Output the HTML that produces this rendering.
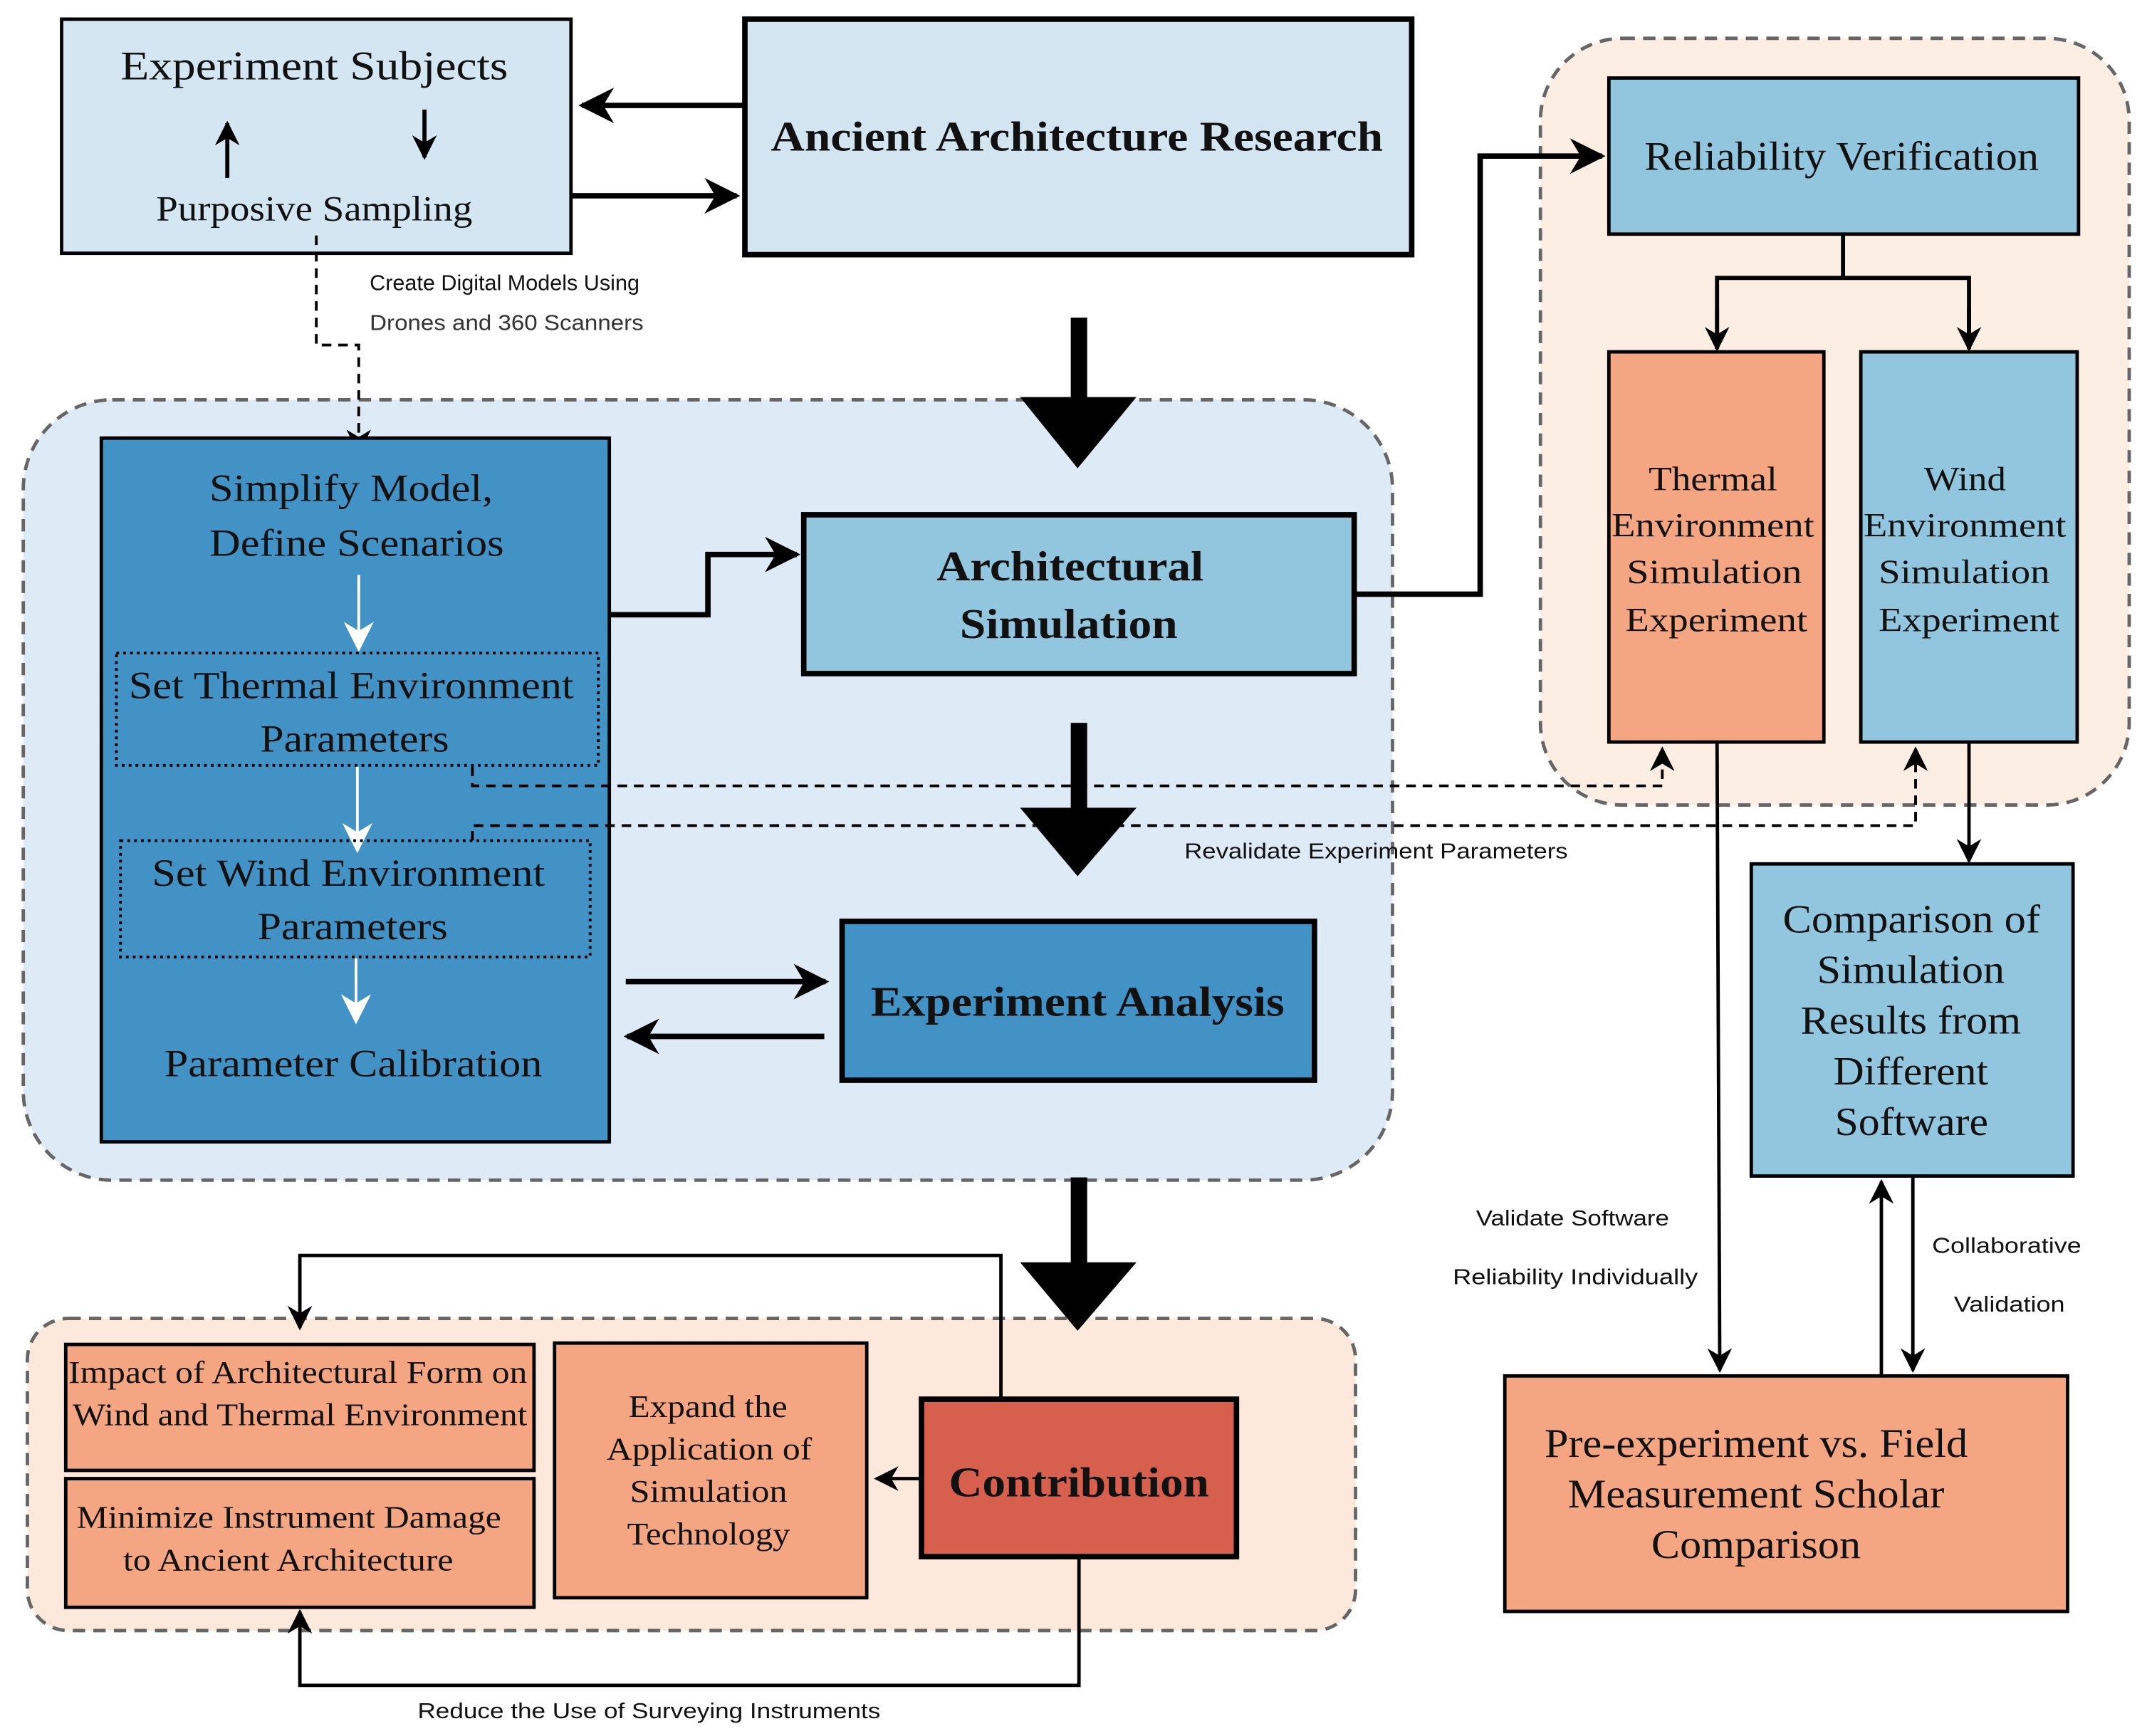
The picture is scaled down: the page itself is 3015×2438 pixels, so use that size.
<!DOCTYPE html>
<html><head><meta charset="utf-8"><style>html,body{margin:0;padding:0;background:#fff}svg{display:block}</style></head>
<body>
<svg width="3015" height="2438" viewBox="0 0 1568 1268" preserveAspectRatio="none" xmlns="http://www.w3.org/2000/svg">
<defs>
<marker id="ab" viewBox="0 0 10 10" refX="9" refY="5" markerWidth="26" markerHeight="26" orient="auto" markerUnits="userSpaceOnUse"><path d="M0,0 L10,5 L0,10 L3,5z" fill="#000"/></marker>
<marker id="am" viewBox="0 0 10 10" refX="9" refY="5" markerWidth="18" markerHeight="18" orient="auto" markerUnits="userSpaceOnUse"><path d="M0,0 L10,5 L0,10 L3,5z" fill="#000"/></marker>
<marker id="aw" viewBox="0 0 10 10" refX="9" refY="5" markerWidth="22" markerHeight="22" orient="auto" markerUnits="userSpaceOnUse"><path d="M0,0 L10,5 L0,10 L3,5z" fill="#fff"/></marker>
</defs>
<g font-family="Liberation Serif, serif" fill="#111" lengthAdjust="spacingAndGlyphs">
<rect x="17" y="292" width="1000" height="570" rx="65" fill="#deebf6" stroke="#666" stroke-width="2.5" stroke-dasharray="9,6"/>
<rect x="1125" y="28" width="430" height="560" rx="60" fill="#fdeee4" stroke="#666" stroke-width="2.5" stroke-dasharray="9,6"/>
<rect x="20" y="963" width="970" height="228" rx="30" fill="#fde8dc" stroke="#666" stroke-width="2.5" stroke-dasharray="9,6"/>

<rect x="45" y="14" width="372" height="171" fill="#d4e6f1" stroke="#000" stroke-width="2.5"/>
<text x="88" y="58" font-size="30" textLength="283" lengthAdjust="spacingAndGlyphs">Experiment Subjects</text>
<text x="114" y="161" font-size="26" textLength="231" lengthAdjust="spacingAndGlyphs">Purposive Sampling</text>
<line x1="166" y1="130" x2="166" y2="90" stroke="#000" stroke-width="3" marker-end="url(#am)"/>
<line x1="310" y1="80" x2="310" y2="115" stroke="#000" stroke-width="3" marker-end="url(#am)"/>
<rect x="544" y="14" width="487" height="172" fill="#d2e5f0" stroke="#000" stroke-width="4"/>
<text x="563" y="110" font-size="31" font-weight="bold" textLength="447" lengthAdjust="spacingAndGlyphs">Ancient Architecture Research</text>
<line x1="544" y1="77" x2="425" y2="77" stroke="#000" stroke-width="4" marker-end="url(#ab)"/>
<line x1="417" y1="143" x2="538" y2="143" stroke="#000" stroke-width="4" marker-end="url(#ab)"/>

<path d="M231,172 V252 H262 V330" fill="none" stroke="#000" stroke-width="2" stroke-dasharray="7,5" marker-end="url(#am)"/>
<text x="270" y="212" font-size="16" font-family="Liberation Sans Narrow, Liberation Sans, sans-serif" textLength="197" lengthAdjust="spacingAndGlyphs">Create Digital Models Using</text>
<text x="270" y="241" font-size="16" font-family="Liberation Sans, sans-serif" fill="#333" textLength="200" lengthAdjust="spacingAndGlyphs">Drones and 360 Scanners</text>

<g fill="#000">
<rect x="782" y="232" width="12" height="62"/><polygon points="745,290 830,290 787,342"/>
<rect x="782" y="528" width="12" height="66"/><polygon points="745,590 830,590 787,640"/>
<rect x="782" y="860" width="12" height="66"/><polygon points="745,922 830,922 787,972"/>
</g>

<rect x="74" y="320" width="371" height="514" fill="#4292c6" stroke="#000" stroke-width="2.5"/>
<text x="153" y="366" font-size="28" textLength="207" lengthAdjust="spacingAndGlyphs">Simplify Model,</text>
<text x="153" y="406" font-size="28" textLength="215" lengthAdjust="spacingAndGlyphs">Define Scenarios</text>
<line x1="262" y1="420" x2="262" y2="474" stroke="#fff" stroke-width="2" marker-end="url(#aw)"/>
<rect x="85" y="477" width="352" height="82" fill="none" stroke="#000" stroke-width="2" stroke-dasharray="2,3"/>
<text x="94" y="510" font-size="28" textLength="325" lengthAdjust="spacingAndGlyphs">Set Thermal Environment</text>
<text x="190" y="549" font-size="28" textLength="138" lengthAdjust="spacingAndGlyphs">Parameters</text>
<line x1="261" y1="560" x2="261" y2="621" stroke="#fff" stroke-width="2" marker-end="url(#aw)"/>
<rect x="88" y="614" width="343" height="85" fill="none" stroke="#000" stroke-width="2" stroke-dasharray="2,3"/>
<text x="111" y="647" font-size="28" textLength="287" lengthAdjust="spacingAndGlyphs">Set Wind Environment</text>
<text x="188" y="686" font-size="28" textLength="139" lengthAdjust="spacingAndGlyphs">Parameters</text>
<line x1="260" y1="700" x2="260" y2="746" stroke="#fff" stroke-width="2" marker-end="url(#aw)"/>
<text x="120" y="786" font-size="28" textLength="276" lengthAdjust="spacingAndGlyphs">Parameter Calibration</text>

<rect x="587" y="376" width="402" height="116" fill="#92c5de" stroke="#000" stroke-width="4"/>
<text x="684" y="424" font-size="31" font-weight="bold" textLength="195" lengthAdjust="spacingAndGlyphs">Architectural</text>
<text x="701" y="466" font-size="31" font-weight="bold" textLength="159" lengthAdjust="spacingAndGlyphs">Simulation</text>
<path d="M445,449 H517 V405 H582" fill="none" stroke="#000" stroke-width="4" marker-end="url(#ab)"/>
<path d="M989,434 H1081 V114 H1170" fill="none" stroke="#000" stroke-width="4" marker-end="url(#ab)"/>

<rect x="615" y="673" width="345" height="116" fill="#4292c6" stroke="#000" stroke-width="4"/>
<text x="636" y="742" font-size="31" font-weight="bold" textLength="302" lengthAdjust="spacingAndGlyphs">Experiment Analysis</text>
<line x1="457" y1="717" x2="603" y2="717" stroke="#000" stroke-width="4" marker-end="url(#ab)"/>
<line x1="602" y1="757" x2="458" y2="757" stroke="#000" stroke-width="4" marker-end="url(#ab)"/>

<path d="M345,560 V574 H1214 V547" fill="none" stroke="#000" stroke-width="2" stroke-dasharray="7,5" marker-end="url(#am)"/>
<path d="M345,614 V603 H1399 V547" fill="none" stroke="#000" stroke-width="2" stroke-dasharray="7,5" marker-end="url(#am)"/>
<text x="865" y="627" font-size="16" font-family="Liberation Sans, sans-serif" textLength="280" lengthAdjust="spacingAndGlyphs">Revalidate Experiment Parameters</text>

<rect x="1175" y="57" width="343" height="114" fill="#92c5de" stroke="#000" stroke-width="2.5"/>
<text x="1201" y="124" font-size="30" textLength="288" lengthAdjust="spacingAndGlyphs">Reliability Verification</text>
<path d="M1346,171 V203 H1254 V254 M1346,203 H1438 V254" fill="none" stroke="#000" stroke-width="3"/>
<line x1="1254" y1="225" x2="1254" y2="255" stroke="#000" stroke-width="3" marker-end="url(#am)"/>
<line x1="1438" y1="225" x2="1438" y2="255" stroke="#000" stroke-width="3" marker-end="url(#am)"/>
<rect x="1175" y="257" width="157" height="285" fill="#f4a582" stroke="#000" stroke-width="2.5"/>
<g font-size="25">
<text x="1204" y="358" textLength="94" lengthAdjust="spacingAndGlyphs">Thermal</text>
<text x="1177" y="392" textLength="148" lengthAdjust="spacingAndGlyphs">Environment</text>
<text x="1188" y="426" textLength="128" lengthAdjust="spacingAndGlyphs">Simulation</text>
<text x="1187" y="461" textLength="133" lengthAdjust="spacingAndGlyphs">Experiment</text>
</g>
<rect x="1359" y="257" width="158" height="285" fill="#92c5de" stroke="#000" stroke-width="2.5"/>
<g font-size="25">
<text x="1405" y="358" textLength="60" lengthAdjust="spacingAndGlyphs">Wind</text>
<text x="1361" y="392" textLength="148" lengthAdjust="spacingAndGlyphs">Environment</text>
<text x="1372" y="426" textLength="125" lengthAdjust="spacingAndGlyphs">Simulation</text>
<text x="1372" y="461" textLength="132" lengthAdjust="spacingAndGlyphs">Experiment</text>
</g>
<line x1="1438" y1="542" x2="1438" y2="629" stroke="#000" stroke-width="2.5" marker-end="url(#am)"/>
<rect x="1279" y="631" width="235" height="228" fill="#92c5de" stroke="#000" stroke-width="2.5"/>
<g font-size="29">
<text x="1302" y="681" textLength="188" lengthAdjust="spacingAndGlyphs">Comparison of</text>
<text x="1327" y="718" textLength="137" lengthAdjust="spacingAndGlyphs">Simulation</text>
<text x="1315" y="755" textLength="161" lengthAdjust="spacingAndGlyphs">Results from</text>
<text x="1339" y="792" textLength="113" lengthAdjust="spacingAndGlyphs">Different</text>
<text x="1340" y="829" textLength="112" lengthAdjust="spacingAndGlyphs">Software</text>
</g>
<line x1="1254" y1="542" x2="1256" y2="1001" stroke="#000" stroke-width="2.5" marker-end="url(#am)"/>
<line x1="1374" y1="1005" x2="1374" y2="863" stroke="#000" stroke-width="2.5" marker-end="url(#am)"/>
<line x1="1397" y1="859" x2="1397" y2="1001" stroke="#000" stroke-width="2.5" marker-end="url(#am)"/>
<g font-size="16" font-family="Liberation Sans, sans-serif">
<text x="1078" y="895" textLength="141" lengthAdjust="spacingAndGlyphs">Validate Software</text>
<text x="1061" y="938" textLength="179" lengthAdjust="spacingAndGlyphs">Reliability Individually</text>
<text x="1411" y="915" textLength="109" lengthAdjust="spacingAndGlyphs">Collaborative</text>
<text x="1427" y="958" textLength="81" lengthAdjust="spacingAndGlyphs">Validation</text>
</g>
<rect x="1099" y="1005" width="411" height="172" fill="#f4a582" stroke="#000" stroke-width="2.5"/>
<g font-size="30">
<text x="1128" y="1064" textLength="309" lengthAdjust="spacingAndGlyphs">Pre-experiment vs. Field</text>
<text x="1145" y="1101" textLength="275" lengthAdjust="spacingAndGlyphs">Measurement Scholar</text>
<text x="1206" y="1138" textLength="153" lengthAdjust="spacingAndGlyphs">Comparison</text>
</g>

<rect x="48" y="982" width="342" height="92" fill="#f4a582" stroke="#000" stroke-width="2.5"/>
<text x="50" y="1010" font-size="23" textLength="335" lengthAdjust="spacingAndGlyphs">Impact of Architectural Form on</text>
<text x="53" y="1041" font-size="23" textLength="332" lengthAdjust="spacingAndGlyphs">Wind and Thermal Environment</text>
<rect x="48" y="1080" width="342" height="94" fill="#f4a582" stroke="#000" stroke-width="2.5"/>
<text x="56" y="1116" font-size="23" textLength="310" lengthAdjust="spacingAndGlyphs">Minimize Instrument Damage</text>
<text x="90" y="1147" font-size="23" textLength="241" lengthAdjust="spacingAndGlyphs">to Ancient Architecture</text>
<rect x="405" y="981" width="228" height="186" fill="#f4a582" stroke="#000" stroke-width="2.5"/>
<g font-size="23">
<text x="459" y="1035" textLength="116" lengthAdjust="spacingAndGlyphs">Expand the</text>
<text x="443" y="1066" textLength="150" lengthAdjust="spacingAndGlyphs">Application of</text>
<text x="460" y="1097" textLength="115" lengthAdjust="spacingAndGlyphs">Simulation</text>
<text x="458" y="1128" textLength="119" lengthAdjust="spacingAndGlyphs">Technology</text>
</g>
<rect x="673" y="1022" width="230" height="115" fill="#d6604d" stroke="#000" stroke-width="4"/>
<text x="693" y="1093" font-size="31" font-weight="bold" textLength="190" lengthAdjust="spacingAndGlyphs">Contribution</text>
<line x1="673" y1="1080" x2="640" y2="1080" stroke="#000" stroke-width="2.5" marker-end="url(#am)"/>
<path d="M731,1022 V917 H219 V970" fill="none" stroke="#000" stroke-width="2.5" marker-end="url(#am)"/>
<path d="M788,1137 V1231 H219 V1177" fill="none" stroke="#000" stroke-width="2.5" marker-end="url(#am)"/>
<text x="305" y="1255" font-size="16" font-family="Liberation Sans, sans-serif" textLength="338" lengthAdjust="spacingAndGlyphs">Reduce the Use of Surveying Instruments</text>
</g>
</svg>
</body></html>
